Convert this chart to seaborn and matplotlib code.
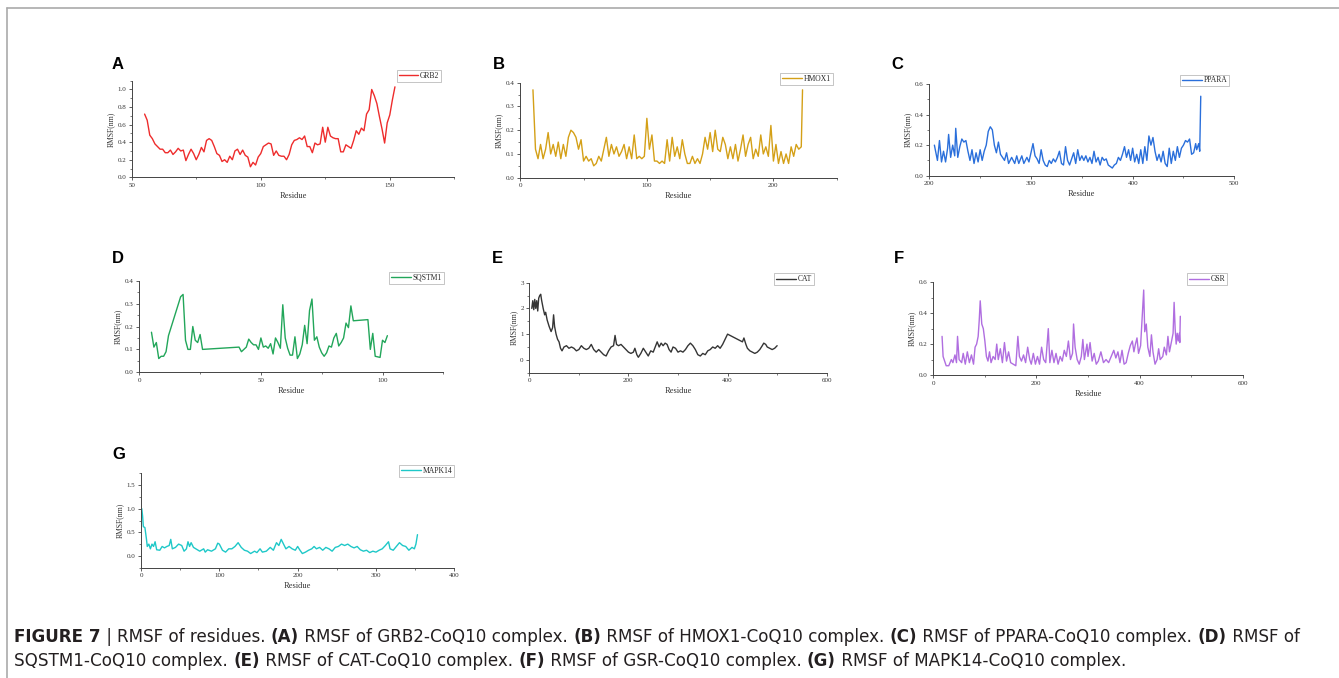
import matplotlib
matplotlib.use('Agg')
import matplotlib.pyplot as plt
import seaborn as sns
from matplotlib.lines import Line2D
from matplotlib.ticker import MultipleLocator, FormatStrFormatter

sns.set_style('ticks')
plt.rcParams['font.family'] = ['Liberation Serif', 'DejaVu Serif']

W, H = 1339, 678

# ---- data (residue number, RMSF in nm) ----
grb2_res = list(range(55, 153))
grb2_rmsf = [0.72, 0.65, 0.48, 0.44, 0.38, 0.35, 0.32, 0.32, 0.28, 0.28,
             0.31, 0.26, 0.29, 0.33, 0.30, 0.31, 0.19, 0.26, 0.32, 0.27,
             0.20, 0.26, 0.34, 0.29, 0.42, 0.44, 0.42, 0.35, 0.27, 0.25,
             0.18, 0.20, 0.17, 0.24, 0.20, 0.30, 0.32, 0.26, 0.31, 0.25,
             0.23, 0.12, 0.17, 0.14, 0.23, 0.27, 0.35, 0.37, 0.39, 0.38,
             0.25, 0.30, 0.25, 0.24, 0.24, 0.20, 0.26, 0.37, 0.42, 0.43,
             0.45, 0.43, 0.47, 0.35, 0.35, 0.28, 0.39, 0.37, 0.38, 0.57,
             0.40, 0.57, 0.47, 0.45, 0.44, 0.44, 0.29, 0.29, 0.37, 0.35,
             0.33, 0.42, 0.53, 0.49, 0.56, 0.53, 0.72, 0.77, 1.00, 0.93,
             0.84, 0.69, 0.55, 0.39, 0.62, 0.71, 0.88, 1.03]

hmox1_res = list(range(10, 223, 2)) + [223]
hmox1_rmsf = [0.37, 0.12, 0.08, 0.14, 0.08, 0.12, 0.19, 0.10, 0.14, 0.09,
              0.15, 0.08, 0.14, 0.09, 0.17, 0.20, 0.19, 0.17, 0.12, 0.16,
              0.07, 0.09, 0.07, 0.08, 0.05, 0.06, 0.09, 0.07, 0.12, 0.17,
              0.09, 0.14, 0.10, 0.13, 0.09, 0.11, 0.14, 0.08, 0.13, 0.08,
              0.18, 0.08, 0.09, 0.08, 0.09, 0.25, 0.12, 0.18, 0.07, 0.07,
              0.06, 0.07, 0.06, 0.16, 0.07, 0.17, 0.09, 0.13, 0.08, 0.16,
              0.10, 0.06, 0.06, 0.09, 0.06, 0.08, 0.06, 0.10, 0.17, 0.12,
              0.19, 0.11, 0.20, 0.12, 0.11, 0.17, 0.14, 0.08, 0.13, 0.08,
              0.14, 0.07, 0.12, 0.18, 0.09, 0.14, 0.17, 0.08, 0.12, 0.09,
              0.18, 0.10, 0.13, 0.09, 0.22, 0.07, 0.14, 0.06, 0.11, 0.06,
              0.10, 0.06, 0.13, 0.09, 0.14, 0.12, 0.13, 0.37]

ppara_res = [205, 208, 210, 212, 214, 216, 218, 219, 221, 223, 225, 226, 228,
             230, 232, 234, 236, 238, 240, 242, 244, 246, 248, 250, 252, 254,
             256, 258, 260, 262, 264, 266, 268, 270, 272, 274, 276, 278, 281,
             284, 286, 288, 291, 293, 296, 298, 300, 302, 304, 306, 308, 310,
             312, 314, 316, 318, 320, 322, 324, 326, 328, 330, 332, 334, 336,
             338, 340, 342, 344, 346, 348, 350, 352, 354, 356, 358, 360, 362,
             364, 366, 368, 370, 372, 374, 376, 378, 380, 382, 384, 386, 388,
             390, 392, 394, 396, 398, 400, 402, 404, 406, 408, 410, 412, 414,
             416, 418, 420, 422, 424, 426, 428, 430, 432, 434, 436, 438, 440,
             442, 444, 446, 448, 450, 452, 454, 456, 458, 460, 462, 463, 465,
             466, 467]
ppara_rmsf = [0.20, 0.10, 0.23, 0.09, 0.16, 0.09, 0.18, 0.27, 0.12, 0.20,
              0.13, 0.31, 0.12, 0.19, 0.24, 0.22, 0.23, 0.16, 0.10, 0.17,
              0.08, 0.15, 0.09, 0.17, 0.10, 0.16, 0.20, 0.29, 0.32, 0.30,
              0.20, 0.15, 0.22, 0.14, 0.12, 0.10, 0.15, 0.08, 0.12, 0.08,
              0.13, 0.08, 0.13, 0.08, 0.12, 0.09, 0.15, 0.21, 0.13, 0.11,
              0.08, 0.17, 0.10, 0.07, 0.06, 0.10, 0.08, 0.11, 0.09, 0.12,
              0.16, 0.08, 0.07, 0.19, 0.10, 0.07, 0.11, 0.15, 0.08, 0.17,
              0.10, 0.13, 0.10, 0.13, 0.09, 0.12, 0.08, 0.16, 0.09, 0.12,
              0.07, 0.12, 0.10, 0.11, 0.07, 0.06, 0.05, 0.07, 0.08, 0.12,
              0.10, 0.14, 0.19, 0.12, 0.17, 0.10, 0.18, 0.09, 0.14, 0.08,
              0.17, 0.08, 0.19, 0.10, 0.26, 0.20, 0.25, 0.16, 0.10, 0.14,
              0.09, 0.16, 0.08, 0.06, 0.18, 0.08, 0.16, 0.10, 0.19, 0.12,
              0.18, 0.20, 0.23, 0.22, 0.24, 0.14, 0.15, 0.21, 0.17, 0.21,
              0.16, 0.52]

sqstm1_res = [5, 6, 7, 8, 9, 10, 11, 12, 17, 18, 19, 20, 21, 22, 23, 24, 25,
              26, 41, 42, 43, 44, 45, 46, 47, 48, 49, 50, 51, 52, 53, 54, 55,
              56, 57, 58, 59, 60, 61, 62, 63, 64, 65, 66, 67, 68, 69, 70, 71,
              72, 73, 74, 75, 76, 77, 78, 79, 80, 81, 82, 83, 84, 85, 86, 87,
              88, 94, 95, 96, 97, 99, 100, 101, 102]
sqstm1_rmsf = [0.175, 0.11, 0.13, 0.06, 0.07, 0.07, 0.09, 0.16, 0.33, 0.34,
               0.14, 0.10, 0.10, 0.20, 0.14, 0.13, 0.165, 0.10, 0.11, 0.09,
               0.10, 0.11, 0.145, 0.13, 0.12, 0.12, 0.10, 0.15, 0.11, 0.115,
               0.105, 0.125, 0.08, 0.15, 0.13, 0.105, 0.295, 0.15, 0.105,
               0.075, 0.075, 0.155, 0.06, 0.08, 0.12, 0.205, 0.125, 0.27,
               0.32, 0.14, 0.155, 0.11, 0.085, 0.07, 0.085, 0.115, 0.11,
               0.15, 0.17, 0.115, 0.13, 0.15, 0.215, 0.195, 0.29, 0.225,
               0.23, 0.10, 0.17, 0.07, 0.065, 0.14, 0.13, 0.16]

cat_res = [5, 7, 9, 11, 13, 15, 17, 19, 21, 23, 25, 28, 31, 33, 36, 40, 44,
           47, 49, 51, 54, 57, 60, 63, 66, 70, 75, 80, 85, 90, 95, 100, 105,
           110, 115, 120, 125, 130, 135, 140, 145, 150, 155, 160, 165, 170,
           173, 176, 180, 185, 190, 195, 200, 205, 210, 213, 217, 220, 225,
           230, 235, 240, 245, 250, 255, 258, 262, 266, 270, 274, 278, 282,
           286, 290, 295, 300, 305, 310, 315, 320, 325, 330, 335, 340, 345,
           350, 355, 360, 365, 370, 375, 380, 385, 390, 395, 400, 405, 410,
           415, 420, 425, 430, 433, 437, 440, 445, 450, 455, 460, 465, 470,
           473, 477, 480, 485, 490, 495, 500]
cat_rmsf = [2.0, 2.3, 1.95, 2.35, 2.0, 2.3, 1.9, 2.4, 2.5, 2.55, 2.3, 2.0,
            1.75, 1.85, 1.55, 1.3, 1.1, 1.25, 1.75, 1.3, 1.0, 0.8, 0.7, 0.45,
            0.35, 0.5, 0.55, 0.45, 0.5, 0.45, 0.35, 0.4, 0.55, 0.45, 0.4,
            0.45, 0.6, 0.4, 0.3, 0.4, 0.3, 0.2, 0.15, 0.35, 0.5, 0.55, 0.95,
            0.6, 0.55, 0.6, 0.5, 0.4, 0.3, 0.25, 0.3, 0.45, 0.2, 0.1, 0.25,
            0.45, 0.3, 0.15, 0.35, 0.3, 0.55, 0.7, 0.5, 0.65, 0.55, 0.65, 0.6,
            0.4, 0.3, 0.5, 0.45, 0.3, 0.35, 0.3, 0.4, 0.55, 0.65, 0.55, 0.4,
            0.2, 0.15, 0.25, 0.2, 0.35, 0.4, 0.5, 0.45, 0.55, 0.45, 0.6, 0.8,
            1.0, 0.95, 0.9, 0.85, 0.8, 0.75, 0.7, 0.85, 0.6, 0.45, 0.35, 0.3,
            0.25, 0.3, 0.4, 0.55, 0.65, 0.6, 0.5, 0.45, 0.4, 0.45, 0.55]

gsr_res = [17, 19, 22, 25, 30, 35, 38, 42, 45, 47,
           50, 55, 58, 62, 66, 70, 74, 78, 81, 84,
           87, 89, 91, 94, 97, 100, 103, 106, 109, 112,
           116, 120, 123, 126, 130, 134, 138, 142, 146, 150,
           155, 160, 164, 167, 171, 175, 179, 183, 187, 190,
           194, 198, 202, 206, 210, 214, 218, 223, 226, 230,
           234, 238, 242, 246, 250, 254, 258, 262, 266, 270,
           272, 275, 279, 283, 287, 290, 293, 298, 300, 304,
           308, 312, 316, 320, 325, 330, 335, 340, 345, 350,
           354, 358, 362, 366, 370, 374, 378, 382, 386, 389,
           392, 395, 398, 402, 408, 410, 413, 416, 420, 423,
           426, 430, 434, 437, 440, 445, 448, 452, 455, 458,
           462, 465, 467, 469, 471, 473, 475, 477, 478, 479]
gsr_rmsf = [0.25, 0.12, 0.09, 0.06, 0.06, 0.10, 0.08, 0.13, 0.08, 0.25,
            0.10, 0.08, 0.14, 0.07, 0.15, 0.08, 0.13, 0.07, 0.18, 0.20,
            0.25, 0.35, 0.48, 0.33, 0.30, 0.22, 0.12, 0.09, 0.15, 0.08,
            0.12, 0.10, 0.20, 0.10, 0.17, 0.08, 0.21, 0.09, 0.15, 0.08,
            0.07, 0.06, 0.25, 0.12, 0.09, 0.13, 0.08, 0.18, 0.10, 0.07,
            0.14, 0.07, 0.12, 0.07, 0.18, 0.10, 0.08, 0.30, 0.08, 0.16,
            0.08, 0.14, 0.07, 0.12, 0.09, 0.16, 0.12, 0.22, 0.10, 0.14,
            0.33, 0.18, 0.10, 0.07, 0.12, 0.23, 0.10, 0.20, 0.12, 0.21,
            0.09, 0.14, 0.07, 0.09, 0.15, 0.08, 0.10, 0.08, 0.12, 0.16,
            0.11, 0.15, 0.08, 0.16, 0.07, 0.08, 0.14, 0.19, 0.22, 0.15,
            0.20, 0.24, 0.14, 0.19, 0.55, 0.28, 0.33, 0.18, 0.12, 0.26,
            0.15, 0.07, 0.10, 0.17, 0.10, 0.12, 0.18, 0.13, 0.25, 0.15,
            0.22, 0.27, 0.47, 0.30, 0.20, 0.27, 0.22, 0.27, 0.21, 0.38]

mapk14_res = [1, 2, 3, 5, 7, 8, 10, 12, 14, 16, 18, 20, 24, 27, 30, 33, 36,
              38, 40, 44, 48, 52, 55, 58, 60, 62, 64, 67, 70, 75, 80, 82, 85,
              90, 95, 98, 100, 104, 108, 112, 116, 120, 124, 128, 132, 136,
              140, 145, 148, 152, 155, 160, 165, 169, 173, 176, 179, 182, 185,
              189, 193, 197, 200, 203, 206, 210, 214, 218, 221, 224, 228, 232,
              236, 240, 244, 248, 252, 256, 260, 264, 268, 272, 276, 280, 284,
              288, 292, 296, 300, 304, 308, 312, 316, 318, 322, 326, 330, 334,
              338, 342, 346, 349, 351, 353]
mapk14_rmsf = [1.0, 0.85, 0.62, 0.6, 0.35, 0.2, 0.25, 0.15, 0.25, 0.2, 0.3,
               0.13, 0.12, 0.2, 0.17, 0.2, 0.22, 0.35, 0.15, 0.18, 0.25, 0.22,
               0.1, 0.15, 0.3, 0.2, 0.28, 0.18, 0.15, 0.1, 0.15, 0.08, 0.13,
               0.1, 0.15, 0.27, 0.25, 0.12, 0.08, 0.15, 0.15, 0.2, 0.28, 0.18,
               0.12, 0.1, 0.05, 0.1, 0.07, 0.15, 0.08, 0.1, 0.18, 0.12, 0.28,
               0.22, 0.35, 0.25, 0.15, 0.2, 0.15, 0.12, 0.2, 0.12, 0.05, 0.08,
               0.12, 0.15, 0.2, 0.15, 0.18, 0.12, 0.18, 0.15, 0.1, 0.18, 0.2,
               0.25, 0.22, 0.25, 0.2, 0.17, 0.2, 0.13, 0.1, 0.12, 0.07, 0.1,
               0.08, 0.12, 0.15, 0.22, 0.3, 0.15, 0.12, 0.2, 0.28, 0.22, 0.2,
               0.12, 0.18, 0.15, 0.25, 0.45]

# ---- panel layout (pixel boxes: left, top, right, bottom) ----
panels = [
    dict(tag='A', name='GRB2', x=grb2_res, y=grb2_rmsf, color='#ee2c2c',
         box=(131.7, 80.7, 454.3, 177.3), xlim=(50, 175), xmaj=50,
         ylim=(0, 1.1), ymaj=0.2, yfmt='%.1f', leg=(396.7, 70), lab=(112, 57)),
    dict(tag='B', name='HMOX1', x=hmox1_res, y=hmox1_rmsf, color='#d4a017',
         box=(520.3, 82.7, 836.7, 177.7), xlim=(0, 250), xmaj=100,
         ylim=(0, 0.4), ymaj=0.1, yfmt='%.1f', leg=(780.3, 72.7), lab=(493, 57)),
    dict(tag='C', name='PPARA', x=ppara_res, y=ppara_rmsf, color='#2a6fdb',
         box=(929.3, 84, 1234.3, 175.7), xlim=(200, 500), xmaj=100,
         ylim=(0, 0.6), ymaj=0.2, yfmt='%.1f', leg=(1180, 74.5), lab=(891, 57)),
    dict(tag='D', name='SQSTM1', x=sqstm1_res, y=sqstm1_rmsf, color='#22a65a',
         box=(139.3, 280.7, 443.3, 372.3), xlim=(0, 125), xmaj=50,
         ylim=(0, 0.4), ymaj=0.1, yfmt='%.1f', leg=(389.3, 271.7), lab=(112, 251)),
    dict(tag='E', name='CAT', x=cat_res, y=cat_rmsf, color='#353535',
         box=(529.3, 282.7, 826.7, 372.7), xlim=(0, 600), xmaj=200,
         ylim=(-0.5, 3), ymaj=1, yfmt='%d', leg=(774.3, 273.3), lab=(492, 251)),
    dict(tag='F', name='GSR', x=gsr_res, y=gsr_rmsf, color='#b06ee0',
         box=(933.3, 282.3, 1242.7, 375), xlim=(0, 600), xmaj=200,
         ylim=(0, 0.6), ymaj=0.2, yfmt='%.1f', leg=(1187.3, 273.3), lab=(894, 251)),
    dict(tag='G', name='MAPK14', x=mapk14_res, y=mapk14_rmsf, color='#1ec8c8',
         box=(141, 473.3, 454.3, 567.7), xlim=(0, 400), xmaj=100,
         ylim=(-0.25, 1.75), ymaj=0.5, yfmt='%.1f', leg=(399, 465), lab=(112, 447)),
]

fig = plt.figure(figsize=(W / 100, H / 100), dpi=100)

for p in panels:
    l, t, r, b = p['box']
    ax = fig.add_axes([l / W, 1 - b / H, (r - l) / W, (b - t) / H])
    sns.lineplot(x=p['x'], y=p['y'], ax=ax, color=p['color'], lw=1.0,
                 legend=False, estimator=None, sort=False)
    ax.set_xlim(*p['xlim'])
    ax.set_ylim(*p['ylim'])
    ax.xaxis.set_major_locator(MultipleLocator(p['xmaj']))
    ax.xaxis.set_minor_locator(MultipleLocator(p['xmaj'] / 2))
    ax.yaxis.set_major_locator(MultipleLocator(p['ymaj']))
    ax.yaxis.set_minor_locator(MultipleLocator(p['ymaj'] / 2))
    ax.yaxis.set_major_formatter(FormatStrFormatter(p['yfmt']))
    for s in ['top', 'right']:
        ax.spines[s].set_visible(False)
    for s in ['left', 'bottom']:
        ax.spines[s].set_color('#444444')
        ax.spines[s].set_linewidth(0.7)
    ax.tick_params(which='major', length=2.5, width=0.6, labelsize=5,
                   colors='#444444', labelcolor='#333333', pad=1.5)
    ax.tick_params(which='minor', length=1.5, width=0.5, colors='#444444')
    ax.set_xlabel('Residue', fontsize=6, color='#333333', labelpad=3)
    ax.set_ylabel('RMSF(nm)', fontsize=5.5, color='#333333', labelpad=2)
    ax.patch.set_alpha(0)

    lx, ly = p['leg']
    ax.legend(handles=[Line2D([], [], color=p['color'], lw=1.0)], labels=[p['name']],
              loc='upper left', bbox_to_anchor=(lx / W, 1 - ly / H),
              bbox_transform=fig.transFigure, fontsize=5.5, frameon=True,
              fancybox=False, edgecolor='#bbbbbb', framealpha=1,
              handlelength=2.6, handletextpad=0.2, borderpad=0.25,
              borderaxespad=0)
    ax.get_legend().get_frame().set_linewidth(0.6)

    lx0, ly0 = p['lab']
    fig.text(lx0 / W, 1 - ly0 / H, p['tag'], fontsize=12, fontweight='bold',
             family=['Liberation Sans', 'DejaVu Sans'], color='black',
             ha='left', va='top')

# ---- outer frame ----
fig.add_artist(Line2D([7 / W, 7 / W], [0, 1 - 8 / H], color='#aaaaaa', lw=1.2))
fig.add_artist(Line2D([7 / W, 1], [1 - 8 / H, 1 - 8 / H], color='#aaaaaa', lw=1.2))

# ---- caption ----
cap_font = ['DejaVu Sans']
line1 = [('FIGURE 7', True), (' | ', False), ('RMSF of residues. ', False),
         ('(A)', True), (' RMSF of GRB2-CoQ10 complex. ', False),
         ('(B)', True), (' RMSF of HMOX1-CoQ10 complex. ', False),
         ('(C)', True), (' RMSF of PPARA-CoQ10 complex. ', False),
         ('(D)', True), (' RMSF of', False)]
line2 = [('SQSTM1-CoQ10 complex. ', False), ('(E)', True),
         (' RMSF of CAT-CoQ10 complex. ', False), ('(F)', True),
         (' RMSF of GSR-CoQ10 complex. ', False), ('(G)', True),
         (' RMSF of MAPK14-CoQ10 complex.', False)]

renderer = fig.canvas.get_renderer()
for pieces, ypx in [(line1, 637), (line2, 661)]:
    xpx = 14
    for txt, bold in pieces:
        t = fig.text(xpx / W, 1 - ypx / H, txt, fontsize=12.1,
                     fontweight='bold' if bold else 'normal', family=cap_font,
                     color='#231f20', ha='left', va='center')
        bb = t.get_window_extent(renderer=renderer)
        xpx += bb.width

fig.savefig('out.png', dpi=100)
